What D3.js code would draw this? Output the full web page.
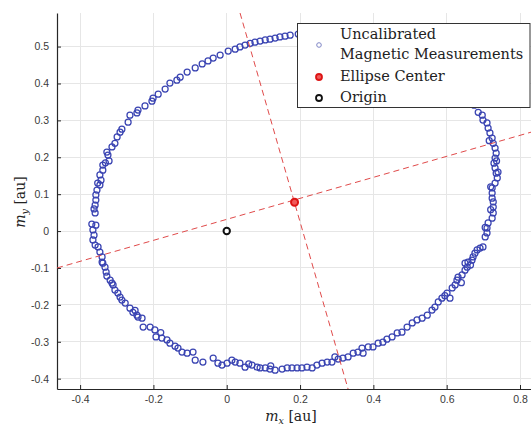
<!DOCTYPE html>
<html>
<head>
<meta charset="utf-8">
<script src="https://cdn.jsdelivr.net/npm/d3@7"></script>
<style>
html,body{margin:0;padding:0;background:#fff;}
svg{display:block;}
</style>
</head>
<body>
<svg id="chart" width="531" height="425"></svg>
<script>
// ---------- data ----------
const measX = [
0.173,0.159,0.145,0.132,0.118,0.105,0.091,0.077,0.064,0.050,0.036,0.023,0.004,-0.018,-0.037,-0.051,-0.067,-0.086,-0.108,-0.127,-0.136,-0.155,-0.168,-0.187,-0.201,-0.204,-0.223,-0.242,-0.245,-0.264,-0.269,-0.286,-0.291,-0.299,-0.305,-0.313,-0.327,-0.324,-0.321,-0.338,-0.338,-0.346,-0.343,-0.346,-0.354,-0.357,-0.357,-0.359,-0.359,-0.368,-0.357,
-0.365,-0.362,-0.365,-0.359,-0.351,-0.346,-0.340,-0.340,-0.338,-0.332,-0.329,-0.327,-0.318,-0.313,-0.310,-0.305,-0.297,-0.291,-0.286,-0.277,-0.264,-0.256,-0.245,-0.242,-0.231,-0.228,-0.209,-0.196,-0.193,-0.177,-0.163,-0.155,-0.141,-0.133,-0.122,-0.108,-0.092,-0.086,-0.065,-0.037,-0.024,-0.013,0.001,0.014,0.023,0.036,0.050,0.069,0.083,0.091,0.105,0.118,0.132,0.151,0.165,0.178,0.192,0.205,0.219,0.233,0.246,0.260,0.274,0.287,0.295,0.304,0.317,0.331,0.345,0.358,0.369,0.372,0.386,0.399,0.413,0.426,0.437,0.451,0.465,0.478,0.492,0.506,0.519,0.533,0.547,0.560,0.568,0.577,0.587,0.601,0.609,0.615,0.623,0.628,0.631,0.642,0.650,0.656,0.650,0.658,0.669,0.672,0.677,0.683,0.691,0.699,0.705,0.710,0.710,0.713,0.724,0.727,0.727,0.727,0.724,0.724,0.724,0.732,0.738,0.735,0.732,0.729,0.732,0.735,0.732,0.727,0.724,0.718,0.713,0.710,0.699,0.697,0.686,
0.675,0.658,0.637,0.609,0.582,0.549,0.514,0.473,0.432,0.391,0.350,0.309,0.268,0.227,0.195,
0.740,0.720,0.736,0.716,0.720,0.705,-0.362,-0.352,-0.331,-0.180,-0.250,0.120,0.060,0.640,0.665,0.595
];
const measY = [
0.531,0.528,0.526,0.523,0.520,0.518,0.515,0.512,0.509,0.504,0.499,0.493,0.488,0.477,0.469,0.461,0.453,0.442,0.431,0.417,0.409,0.401,0.385,0.371,0.360,0.352,0.339,0.328,0.320,0.314,0.295,0.276,0.268,0.255,0.238,0.228,0.214,0.206,0.190,0.179,0.165,0.152,0.138,0.125,0.111,0.098,0.084,0.070,0.049,0.019,0.016,
0.003,-0.011,-0.024,-0.038,-0.043,-0.057,-0.070,-0.084,-0.087,-0.098,-0.111,-0.122,-0.133,-0.141,-0.146,-0.160,-0.168,-0.179,-0.187,-0.195,-0.209,-0.220,-0.228,-0.233,-0.236,-0.260,-0.260,-0.268,-0.287,-0.290,-0.295,-0.304,-0.312,-0.317,-0.328,-0.331,-0.328,-0.350,-0.355,-0.344,-0.358,-0.363,-0.358,-0.350,-0.355,-0.358,-0.369,-0.363,-0.369,-0.371,-0.371,-0.374,-0.377,-0.374,-0.371,-0.371,-0.371,-0.371,-0.369,-0.371,-0.363,-0.358,-0.355,-0.355,-0.341,-0.347,-0.344,-0.341,-0.331,-0.328,-0.317,-0.331,-0.314,-0.314,-0.304,-0.301,-0.293,-0.287,-0.276,-0.274,-0.260,-0.249,-0.241,-0.236,-0.228,-0.214,-0.206,-0.192,-0.182,-0.168,-0.182,-0.154,-0.146,-0.133,-0.125,-0.119,-0.106,-0.098,-0.087,-0.084,-0.079,-0.070,-0.060,-0.051,-0.046,-0.043,-0.016,-0.005,0.008,0.022,0.035,0.049,0.065,0.079,0.089,0.103,0.117,0.130,0.144,0.157,0.171,0.184,0.198,0.211,0.225,0.238,0.252,0.266,0.279,0.293,0.301,0.314,0.322,
0.341,0.366,0.390,0.415,0.436,0.458,0.477,0.493,0.507,0.518,0.526,0.531,0.534,0.534,0.534,
0.160,0.120,0.190,0.245,0.058,0.010,0.060,0.130,0.185,-0.275,-0.215,-0.365,-0.360,-0.140,-0.092,-0.175
];
const ellipseCenter = [0.185, 0.078];
const origin = [0, 0];
const majorAxisLine = [[-0.463, -0.100], [0.830, 0.268]];
const minorAxisLine = [[0.0363, 0.591], [0.331, -0.428]];
const xTicks = [-0.4, -0.2, 0, 0.2, 0.4, 0.6, 0.8];
const yTicks = [-0.4, -0.3, -0.2, -0.1, 0, 0.1, 0.2, 0.3, 0.4, 0.5];
const xDomain = [-0.463, 0.830];
const yDomain = [-0.428, 0.591];
const legendLabels = [["Uncalibrated", "Magnetic Measurements"], ["Ellipse Center"], ["Origin"]];

// ---------- layout ----------
const L = 57, R = 531, T = 13, B = 389;
const svg = d3.select("#chart");
const x = d3.scaleLinear().domain(xDomain).range([L, R]);
const y = d3.scaleLinear().domain(yDomain).range([B, T]);
const fmt = v => String(+v.toFixed(2));

svg.append("defs").append("clipPath").attr("id", "clip")
  .append("rect").attr("x", L).attr("y", T).attr("width", R - L).attr("height", B - T);

// grid
const grid = svg.append("g");
grid.selectAll(".gx").data(xTicks).join("line")
  .attr("x1", d => x(d)).attr("x2", d => x(d)).attr("y1", T).attr("y2", B)
  .attr("stroke", "#e6e6e6").attr("stroke-width", 1).attr("shape-rendering", "crispEdges");
grid.selectAll(".gy").data(yTicks).join("line")
  .attr("y1", d => y(d)).attr("y2", d => y(d)).attr("x1", L).attr("x2", R)
  .attr("stroke", "#e6e6e6").attr("stroke-width", 1).attr("shape-rendering", "crispEdges");

// axes
const xAxis = d3.axisBottom(x).tickValues(xTicks).tickFormat(fmt).tickSizeInner(-4).tickSizeOuter(0).tickPadding(7);
const yAxis = d3.axisLeft(y).tickValues(yTicks).tickFormat(fmt).tickSizeInner(-4).tickSizeOuter(0).tickPadding(8);
const gx = svg.append("g").attr("transform", `translate(0,${B})`).call(xAxis);
const gy = svg.append("g").attr("transform", `translate(${L},0)`).call(yAxis);
[gx, gy].forEach(g => {
  g.select(".domain").attr("stroke", "#262626").attr("stroke-width", 1.2);
  g.selectAll(".tick line").attr("stroke", "#262626");
  g.selectAll(".tick text").attr("fill", "#3a3a3a").attr("font-family", "'Liberation Sans', Arial, sans-serif").attr("font-size", 10.5);
});

// data
const plot = svg.append("g").attr("clip-path", "url(#clip)");
plot.selectAll(".pt").data(d3.range(measX.length)).join("circle")
  .attr("cx", i => x(measX[i])).attr("cy", i => y(measY[i])).attr("r", 3)
  .attr("fill", "none").attr("stroke", "#3a44b2").attr("stroke-width", 1.25);

const line = d3.line().x(d => x(d[0])).y(d => y(d[1]));
[majorAxisLine, minorAxisLine].forEach(l => {
  plot.append("path").attr("d", line(l)).attr("fill", "none")
    .attr("stroke", "#e04a4a").attr("stroke-width", 1).attr("stroke-dasharray", "6,4");
});

plot.append("circle").attr("cx", x(ellipseCenter[0])).attr("cy", y(ellipseCenter[1])).attr("r", 3.5)
  .attr("fill", "#f05a5a").attr("stroke", "#dd1515").attr("stroke-width", 2);
plot.append("circle").attr("cx", x(origin[0])).attr("cy", y(origin[1])).attr("r", 3.2)
  .attr("fill", "#fff").attr("stroke", "#111").attr("stroke-width", 2);

// axis labels
const serif = "'DejaVu Serif', 'Liberation Serif', serif";
const xl = svg.append("text").attr("x", 291).attr("y", 421).attr("text-anchor", "middle")
  .attr("font-family", serif).attr("font-size", 14).attr("fill", "#222");
xl.append("tspan").attr("font-style", "italic").text("m");
xl.append("tspan").attr("font-style", "italic").attr("font-size", 9.5).attr("dy", 3).text("x");
xl.append("tspan").attr("dy", -3).text(" [au]");
const yl = svg.append("text").attr("transform", "translate(25,202) rotate(-90)").attr("text-anchor", "middle")
  .attr("font-family", serif).attr("font-size", 14).attr("fill", "#222");
yl.append("tspan").attr("font-style", "italic").text("m");
yl.append("tspan").attr("font-style", "italic").attr("font-size", 9.5).attr("dy", 3).text("y");
yl.append("tspan").attr("dy", -3).text(" [au]");

// legend
const lg = svg.append("g");
lg.append("rect").attr("x", 297.5).attr("y", 23.5).attr("width", 232.5).attr("height", 84)
  .attr("fill", "#fff").attr("stroke", "#333").attr("stroke-width", 1);
const lgText = lg.append("g").attr("font-family", serif).attr("font-size", 14.5).attr("fill", "#222");
lgText.append("text").attr("x", 340).attr("y", 39).text(legendLabels[0][0]);
lgText.append("text").attr("x", 340).attr("y", 59).text(legendLabels[0][1]);
lgText.append("text").attr("x", 340).attr("y", 81).text(legendLabels[1][0]);
lgText.append("text").attr("x", 340).attr("y", 102).text(legendLabels[2][0]);
lg.append("circle").attr("cx", 319).attr("cy", 45).attr("r", 2.3).attr("fill", "none").attr("stroke", "#7f86c6").attr("stroke-width", 1);
lg.append("circle").attr("cx", 319).attr("cy", 77).attr("r", 3).attr("fill", "#f05a5a").attr("stroke", "#dd1515").attr("stroke-width", 1.8);
lg.append("circle").attr("cx", 319).attr("cy", 98).attr("r", 3).attr("fill", "#fff").attr("stroke", "#111").attr("stroke-width", 1.8);
</script>
</body>
</html>
